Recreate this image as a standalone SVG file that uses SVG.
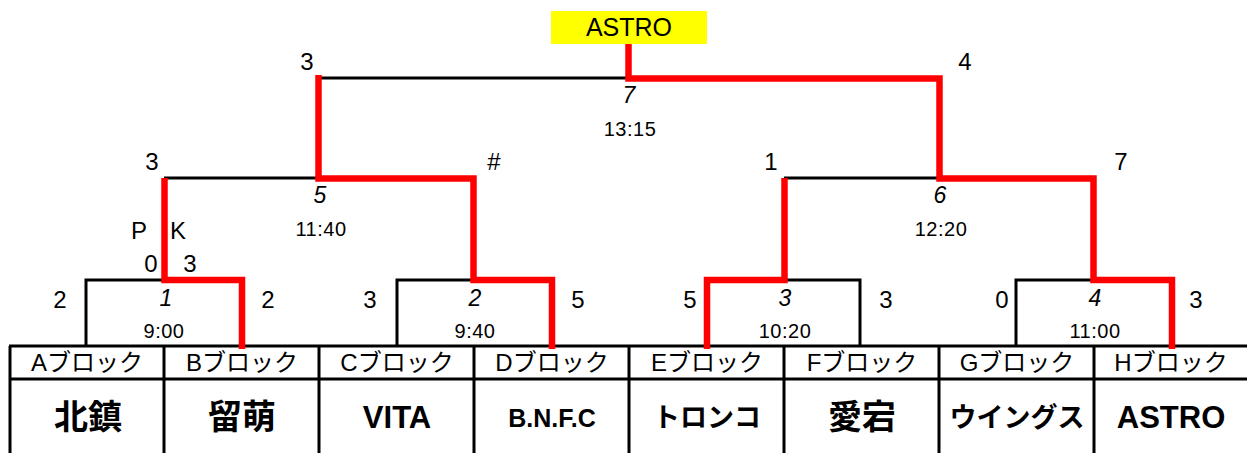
<svg xmlns="http://www.w3.org/2000/svg" width="1247" height="453" viewBox="0 0 1247 453">
<style>
text{font-family:"Liberation Sans","Noto Sans CJK JP",sans-serif;fill:#000;text-anchor:middle}
.sc{font-size:24px}
.mn{font-size:23px;font-style:italic}
.tm{font-size:20px;letter-spacing:0.5px}
.blk{font-size:24px}
.team{font-size:31px;font-weight:bold}
.kanji{font-size:34px;font-weight:bold}
.kana{font-size:27px;font-weight:bold}
.blk-line{stroke:#000;stroke-width:3;fill:none}
.br{stroke:#000;stroke-width:3;fill:none}
.win{stroke:#FF0000;stroke-width:6.5;fill:none;stroke-linejoin:miter;stroke-linecap:butt}
</style>
<rect width="1247" height="453" fill="#fff"/>
<g id="table">
<path class="blk-line" d="M9,346H1247M9,379H1247M10,346V453M164,346V453M319,346V453M474,346V453M629,346V453M784,346V453M939,346V453M1094,346V453"/>
</g>
<g id="connectors">
<path class="br" d="M86,347V280H164M397,347V280H474M786,280H860V347M1016,347V280H1094M164,178H319M784,178H939M319,78H628"/>
<path class="win" d="M628.5,43V78.5H939.5V178.5H1093.5V280H1172V349"/>
<path class="win" d="M318.5,75V178.5H473.5V280H552V349"/>
<path class="win" d="M164.5,178V280H242V349"/>
<path class="win" d="M784.5,178V280H707V349"/>
</g>
<g id="champion">
<rect x="551" y="11" width="156" height="33" fill="#FFFF00"/>
<text x="629" y="36" style="font-size:25px">ASTRO</text>
</g>
<g id="match7">
<text class="sc" x="307" y="70">3</text>
<text class="sc" x="965" y="70">4</text>
<text class="mn" x="629" y="103">7</text>
<text class="tm" x="630" y="136">13:15</text>
</g>
<g id="match5">
<text class="sc" x="152" y="170">3</text>
<text class="sc" x="494" y="170">#</text>
<text class="mn" x="320" y="203">5</text>
<text class="tm" x="321" y="236">11:40</text>
<text class="sc" x="139" y="239">P</text>
<text class="sc" x="178" y="239">K</text>
<text class="sc" x="151" y="272">0</text>
<text class="sc" x="190" y="272">3</text>
</g>
<g id="match6">
<text class="sc" x="771" y="170">1</text>
<text class="sc" x="1121" y="170">7</text>
<text class="mn" x="940" y="203">6</text>
<text class="tm" x="941" y="236">12:20</text>
</g>
<g id="match1">
<text class="sc" x="60" y="308">2</text>
<text class="sc" x="268" y="308">2</text>
<text class="mn" x="166" y="306">1</text>
<text class="tm" x="164" y="338">9:00</text>
</g>
<g id="match2">
<text class="sc" x="370" y="308">3</text>
<text class="sc" x="578" y="308">5</text>
<text class="mn" x="475" y="306">2</text>
<text class="tm" x="475" y="338">9:40</text>
</g>
<g id="match3">
<text class="sc" x="690" y="308">5</text>
<text class="sc" x="886" y="308">3</text>
<text class="mn" x="785" y="306">3</text>
<text class="tm" x="785" y="338">10:20</text>
</g>
<g id="match4">
<text class="sc" x="1002" y="308">0</text>
<text class="sc" x="1196" y="308">3</text>
<text class="mn" x="1095" y="306">4</text>
<text class="tm" x="1095" y="338">11:00</text>
</g>
<g id="teamA"><text class="blk" x="87" y="371">Aブロック</text><text class="kanji" x="88" y="429">北鎮</text></g>
<g id="teamB"><text class="blk" x="242" y="371">Bブロック</text><text class="kanji" x="242" y="429">留萌</text></g>
<g id="teamC"><text class="blk" x="397" y="371">Cブロック</text><text class="team" x="397" y="428">VITA</text></g>
<g id="teamD"><text class="blk" x="552" y="371">Dブロック</text><text class="team" x="552" y="427" style="font-size:25px">B.N.F.C</text></g>
<g id="teamE"><text class="blk" x="707" y="371">Eブロック</text><text class="kana" x="707" y="427">トロンコ</text></g>
<g id="teamF"><text class="blk" x="862" y="371">Fブロック</text><text class="kanji" x="862" y="429">愛宕</text></g>
<g id="teamG"><text class="blk" x="1017" y="371">Gブロック</text><text class="kana" x="1017" y="427">ウイングス</text></g>
<g id="teamH"><text class="blk" x="1171" y="371">Hブロック</text><text class="team" x="1171" y="428">ASTRO</text></g>
</svg>
